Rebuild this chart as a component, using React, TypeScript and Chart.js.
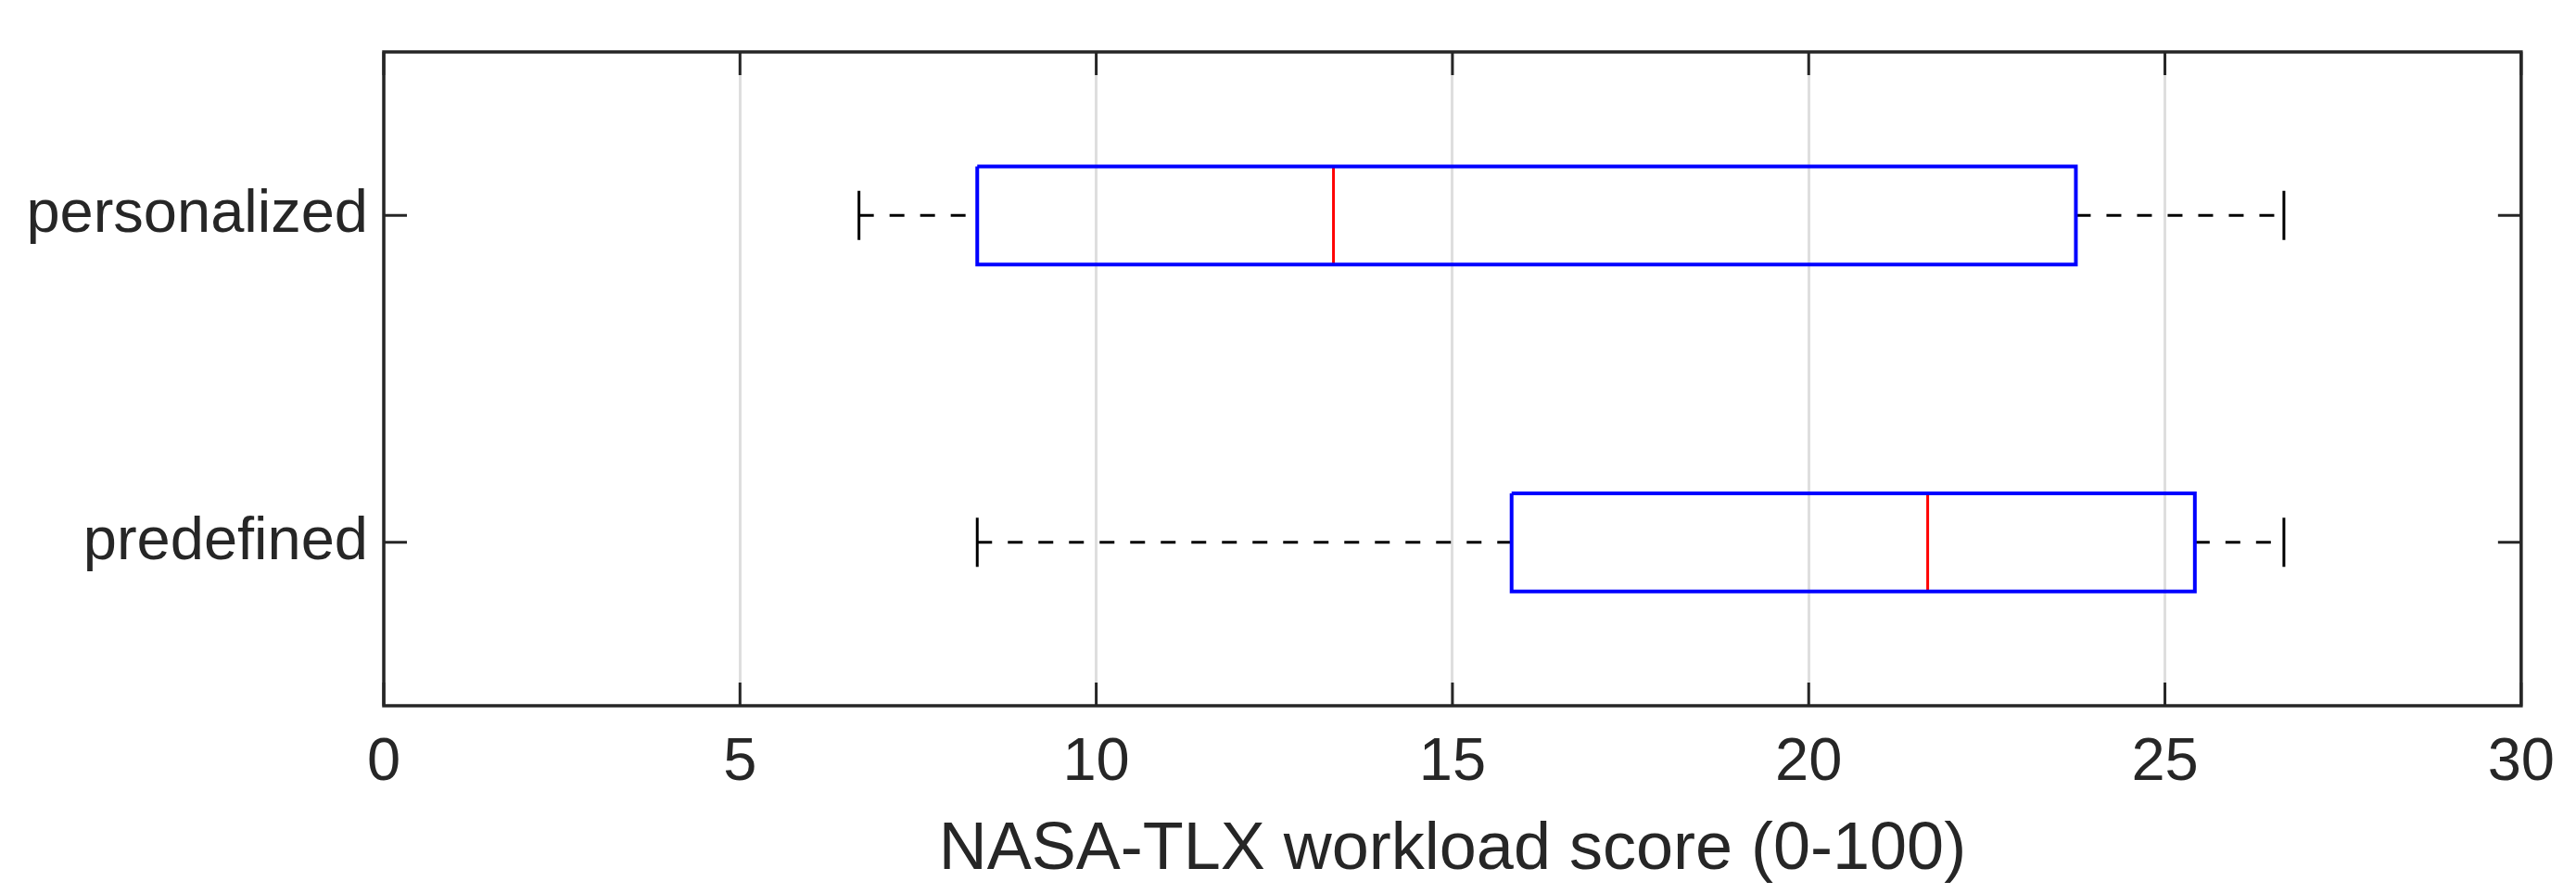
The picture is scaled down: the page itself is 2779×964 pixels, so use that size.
import React, { useEffect, useRef } from "react";
import { Chart, registerables } from "chart.js";

Chart.register(...registerables);

// ---- data ----
const categories = ["personalized", "predefined"];
const whiskerLow = [6.67, 8.33];
const q1Values = [8.33, 15.83];
const medianValues = [13.33, 21.67];
const q3Values = [23.75, 25.42];
const whiskerHigh = [26.67, 26.67];
const xTickValues = [0, 5, 10, 15, 20, 25, 30];
const xTitle = "NASA-TLX workload score (0-100)";

// ---- styles ----
const BOX_HALF = 0.15;
const CAP_HALF = 0.075;
const AXIS_COLOR = "#262626";
const FONT = "'Liberation Sans', Arial, Helvetica, sans-serif";

function buildDatasets() {
  const ds: any[] = [];
  categories.forEach((_, i) => {
    const y = i + 1;
    const common = {
      showLine: true,
      pointRadius: 0,
      pointHoverRadius: 0,
      tension: 0,
      fill: false,
      borderCapStyle: "butt",
      borderJoinStyle: "miter",
    };
    ds.push({
      ...common,
      label: categories[i] + " box",
      data: [
        { x: q1Values[i], y: y - BOX_HALF },
        { x: q3Values[i], y: y - BOX_HALF },
        { x: q3Values[i], y: y + BOX_HALF },
        { x: q1Values[i], y: y + BOX_HALF },
        { x: q1Values[i], y: y - BOX_HALF },
      ],
      borderColor: "#0000ff",
      borderWidth: 4,
    });
    ds.push({
      ...common,
      label: categories[i] + " median",
      data: [
        { x: medianValues[i], y: y - BOX_HALF },
        { x: medianValues[i], y: y + BOX_HALF },
      ],
      borderColor: "#ff0000",
      borderWidth: 3,
    });
    ds.push({
      ...common,
      label: categories[i] + " lower whisker",
      data: [
        { x: whiskerLow[i], y },
        { x: q1Values[i], y },
      ],
      borderColor: "#000000",
      borderWidth: 3,
      borderDash: [16, 17],
    });
    ds.push({
      ...common,
      label: categories[i] + " upper whisker",
      data: [
        { x: q3Values[i], y },
        { x: whiskerHigh[i], y },
      ],
      borderColor: "#000000",
      borderWidth: 3,
      borderDash: [16, 17],
    });
    ds.push({
      ...common,
      label: categories[i] + " lower cap",
      data: [
        { x: whiskerLow[i], y: y - CAP_HALF },
        { x: whiskerLow[i], y: y + CAP_HALF },
      ],
      borderColor: "#000000",
      borderWidth: 3,
    });
    ds.push({
      ...common,
      label: categories[i] + " upper cap",
      data: [
        { x: whiskerHigh[i], y: y - CAP_HALF },
        { x: whiskerHigh[i], y: y + CAP_HALF },
      ],
      borderColor: "#000000",
      borderWidth: 3,
    });
  });
  return ds;
}

const frameTicksPlugin = {
  id: "frameTicks",
  afterDraw(chart: any) {
    const { ctx, chartArea, scales } = chart;
    const { left, right, top, bottom } = chartArea;
    const tl = 25;
    ctx.save();
    ctx.strokeStyle = AXIS_COLOR;
    ctx.lineWidth = 3;
    ctx.lineCap = "butt";
    ctx.beginPath();
    scales.x.ticks.forEach((t: any) => {
      const px = scales.x.getPixelForValue(t.value);
      ctx.moveTo(px, bottom);
      ctx.lineTo(px, bottom - tl);
      ctx.moveTo(px, top);
      ctx.lineTo(px, top + tl);
    });
    scales.y.ticks.forEach((t: any) => {
      const py = scales.y.getPixelForValue(t.value);
      ctx.moveTo(left, py);
      ctx.lineTo(left + tl, py);
      ctx.moveTo(right, py);
      ctx.lineTo(right - tl, py);
    });
    ctx.stroke();
    ctx.lineJoin = "miter";
    ctx.lineWidth = 3.5;
    ctx.strokeRect(left, top, right - left, bottom - top);
    ctx.restore();
  },
};

export default function App() {
  const canvasRef = useRef<HTMLCanvasElement | null>(null);

  useEffect(() => {
    document.body.style.margin = "0";
    const canvas = canvasRef.current;
    if (!canvas) return;
    const chart = new Chart(canvas, {
      type: "scatter",
      data: { datasets: buildDatasets() },
      options: {
        animation: false,
        responsive: true,
        maintainAspectRatio: false,
        devicePixelRatio: 1,
        layout: { padding: { top: 49, right: 58, left: 0, bottom: 0 } },
        plugins: {
          legend: { display: false },
          tooltip: { enabled: false },
          title: { display: false },
        },
        scales: {
          x: {
            type: "linear",
            position: "bottom",
            min: 0,
            max: 30,
            afterBuildTicks: (scale: any) => {
              scale.ticks = xTickValues.map((v) => ({ value: v }));
            },
            afterFit: (scale: any) => {
              scale.height = 203;
            },
            ticks: {
              padding: 23,
              color: AXIS_COLOR,
              font: { family: FONT, size: 65 },
              maxRotation: 0,
              callback: (v: any) => String(v),
            },
            grid: {
              display: true,
              color: "#dedede",
              lineWidth: 3,
              drawTicks: false,
            },
            border: { display: false },
            title: {
              display: true,
              text: xTitle,
              color: AXIS_COLOR,
              font: { family: FONT, size: 72 },
              padding: { top: 0, bottom: 4 },
            },
          },
          y: {
            type: "linear",
            position: "left",
            min: 0.5,
            max: 2.5,
            reverse: true,
            afterBuildTicks: (scale: any) => {
              scale.ticks = categories.map((_, i) => ({ value: i + 1 }));
            },
            afterFit: (scale: any) => {
              scale.width = 414;
            },
            ticks: {
              padding: 17,
              color: AXIS_COLOR,
              font: { family: FONT, size: 65 },
              callback: (v: any) => categories[Math.round(v) - 1] ?? "",
            },
            grid: { display: false, drawTicks: false },
            border: { display: false },
          },
        },
      } as any,
      plugins: [frameTicksPlugin],
    });
    return () => chart.destroy();
  }, []);

  return (
    <div
      style={{
        position: "absolute",
        left: 0,
        top: 0,
        width: 2779,
        height: 964,
        background: "#ffffff",
      }}
    >
      <canvas ref={canvasRef} />
    </div>
  );
}
